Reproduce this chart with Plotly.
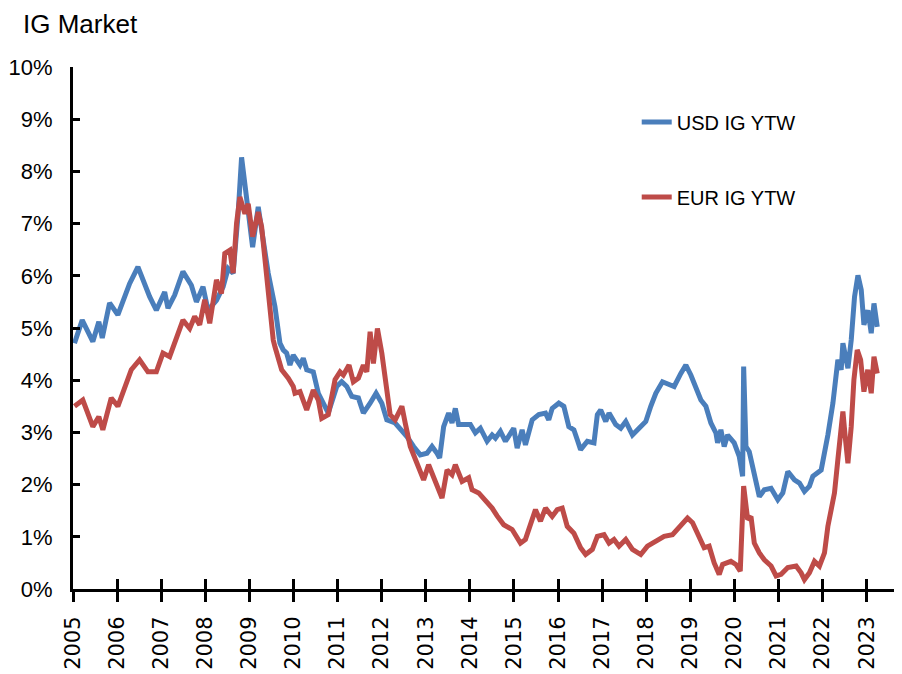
import pandas as pd
import plotly.graph_objects as go

# ---- data (decimal years, yield in %) ----
usd_t = [2005.034, 2005.209, 2005.45, 2005.586, 2005.664, 2005.83, 2006.018, 2006.284, 2006.473, 2006.739,
         2006.891, 2007.08, 2007.155, 2007.307, 2007.495, 2007.686, 2007.80, 2007.95, 2008.064, 2008.255,
         2008.405, 2008.518, 2008.632, 2008.745, 2008.823, 2008.898, 2009.011, 2009.073, 2009.20, 2009.277,
         2009.427, 2009.58, 2009.693, 2009.768, 2009.845, 2009.92, 2009.995, 2010.148, 2010.223, 2010.30,
         2010.45, 2010.564, 2010.60, 2010.716, 2010.79, 2010.982, 2011.095, 2011.209, 2011.323, 2011.473,
         2011.586, 2011.739, 2011.875, 2012.005, 2012.118, 2012.307, 2012.42, 2012.573, 2012.723, 2012.875,
         2013.027, 2013.141, 2013.255, 2013.314, 2013.405, 2013.518, 2013.595, 2013.67, 2013.745, 2014.011,
         2014.125, 2014.239, 2014.391, 2014.505, 2014.58, 2014.693, 2014.807, 2014.995, 2015.073, 2015.186,
         2015.261, 2015.414, 2015.564, 2015.716, 2015.79, 2015.868, 2016.018, 2016.132, 2016.245, 2016.359,
         2016.436, 2016.511, 2016.664, 2016.814, 2016.89, 2016.966, 2017.08, 2017.155, 2017.307, 2017.42,
         2017.534, 2017.686, 2017.836, 2017.989, 2018.102, 2018.216, 2018.368, 2018.482, 2018.632, 2018.784,
         2018.898, 2019.011, 2019.125, 2019.239, 2019.352, 2019.466, 2019.58, 2019.618, 2019.693, 2019.768,
         2019.845, 2019.995, 2020.109, 2020.186, 2020.209, 2020.261, 2020.336, 2020.45, 2020.564, 2020.677,
         2020.83, 2020.982, 2021.095, 2021.209, 2021.359, 2021.473, 2021.586, 2021.70, 2021.777, 2021.966,
         2022.041, 2022.118, 2022.232, 2022.307, 2022.345, 2022.42, 2022.459, 2022.573, 2022.648, 2022.723,
         2022.80, 2022.875, 2022.936, 2023.027, 2023.102, 2023.164, 2023.239]
usd_v = [4.71, 5.15, 4.74, 5.12, 4.81, 5.48, 5.25, 5.85, 6.17, 5.60,
         5.34, 5.69, 5.38, 5.63, 6.08, 5.82, 5.50, 5.79, 5.34, 5.53,
         5.79, 6.14, 6.05, 7.19, 8.27, 7.77, 6.87, 6.55, 7.32, 6.87,
         6.05, 5.41, 4.71, 4.58, 4.52, 4.29, 4.48, 4.29, 4.42, 4.20,
         4.16, 3.75, 3.69, 3.50, 3.37, 3.88, 3.97, 3.88, 3.69, 3.66,
         3.37, 3.56, 3.75, 3.56, 3.24, 3.18, 3.08, 2.92, 2.73, 2.57,
         2.60, 2.73, 2.60, 2.51, 3.11, 3.37, 3.18, 3.46, 3.15, 3.15,
         2.99, 3.08, 2.83, 2.95, 2.89, 3.02, 2.83, 3.08, 2.70, 3.05,
         2.76, 3.24, 3.34, 3.37, 3.24, 3.46, 3.56, 3.50, 3.11, 3.05,
         2.86, 2.67, 2.83, 2.80, 3.34, 3.43, 3.21, 3.37, 3.15, 3.08,
         3.21, 2.95, 3.08, 3.21, 3.50, 3.75, 3.97, 3.94, 3.88, 4.13,
         4.29, 4.10, 3.85, 3.62, 3.50, 3.18, 2.99, 2.80, 3.05, 2.73,
         2.95, 2.80, 2.54, 2.16, 4.26, 2.73, 2.63, 2.16, 1.77, 1.90,
         1.93, 1.71, 1.84, 2.25, 2.09, 2.03, 1.87, 1.97, 2.16, 2.28,
         2.60, 2.95, 3.56, 4.07, 4.39, 4.20, 4.71, 4.23, 4.77, 5.60,
         6.01, 5.73, 5.06, 5.34, 4.90, 5.47, 5.02]

eur_t = [2005.034, 2005.223, 2005.45, 2005.586, 2005.677, 2005.868, 2006.018, 2006.17, 2006.323, 2006.511,
         2006.70, 2006.891, 2007.041, 2007.193, 2007.307, 2007.495, 2007.648, 2007.761, 2007.875, 2007.989,
         2008.102, 2008.255, 2008.368, 2008.443, 2008.557, 2008.632, 2008.709, 2008.784, 2008.898, 2008.973,
         2009.073, 2009.20, 2009.277, 2009.391, 2009.466, 2009.541, 2009.58, 2009.732, 2009.882, 2009.995,
         2010.034, 2010.148, 2010.30, 2010.45, 2010.564, 2010.641, 2010.79, 2010.943, 2011.057, 2011.132,
         2011.261, 2011.359, 2011.473, 2011.586, 2011.664, 2011.739, 2011.814, 2011.905, 2012.005, 2012.118,
         2012.193, 2012.307, 2012.459, 2012.534, 2012.648, 2012.80, 2012.95, 2013.064, 2013.177, 2013.368,
         2013.482, 2013.595, 2013.67, 2013.823, 2013.973, 2014.05, 2014.20, 2014.391, 2014.505, 2014.618,
         2014.768, 2014.959, 2015.148, 2015.261, 2015.414, 2015.489, 2015.602, 2015.716, 2015.868, 2015.982,
         2016.095, 2016.209, 2016.359, 2016.511, 2016.625, 2016.777, 2016.89, 2017.041, 2017.155, 2017.268,
         2017.382, 2017.534, 2017.686, 2017.875, 2018.027, 2018.216, 2018.405, 2018.595, 2018.784, 2018.936,
         2019.05, 2019.164, 2019.314, 2019.427, 2019.541, 2019.655, 2019.732, 2019.92, 2020.034, 2020.132,
         2020.209, 2020.30, 2020.375, 2020.45, 2020.564, 2020.677, 2020.83, 2020.943, 2021.057, 2021.209,
         2021.398, 2021.511, 2021.586, 2021.70, 2021.814, 2021.927, 2022.041, 2022.118, 2022.193, 2022.268,
         2022.345, 2022.405, 2022.459, 2022.511, 2022.573, 2022.648, 2022.709, 2022.784, 2022.861, 2022.936,
         2023.023, 2023.102, 2023.164, 2023.239]
eur_v = [3.50, 3.62, 3.11, 3.30, 3.05, 3.66, 3.50, 3.88, 4.20, 4.39,
         4.16, 4.16, 4.52, 4.45, 4.71, 5.15, 4.99, 5.22, 5.06, 5.54,
         5.09, 5.92, 5.66, 6.43, 6.49, 6.05, 7.00, 7.51, 7.19, 7.38,
         6.75, 7.22, 6.94, 5.92, 5.34, 4.77, 4.64, 4.20, 4.04, 3.88,
         3.75, 3.78, 3.43, 3.81, 3.62, 3.27, 3.34, 4.01, 4.16, 4.10,
         4.29, 3.97, 4.04, 4.29, 4.16, 4.93, 4.32, 4.99, 4.52, 3.75,
         3.34, 3.24, 3.50, 3.18, 2.73, 2.41, 2.09, 2.38, 2.16, 1.74,
         2.28, 2.19, 2.38, 2.06, 2.13, 1.90, 1.84, 1.65, 1.55, 1.40,
         1.23, 1.14, 0.88, 0.95, 1.33, 1.52, 1.30, 1.55, 1.39, 1.52,
         1.55, 1.20, 1.07, 0.79, 0.66, 0.76, 1.01, 1.04, 0.88, 0.95,
         0.82, 0.95, 0.76, 0.66, 0.82, 0.91, 1.01, 1.04, 1.20, 1.36,
         1.27, 1.07, 0.79, 0.82, 0.50, 0.28, 0.47, 0.53, 0.47, 0.34,
         1.97, 1.33, 1.39, 0.88, 0.69, 0.56, 0.44, 0.25, 0.28, 0.41,
         0.44, 0.31, 0.18, 0.31, 0.53, 0.44, 0.69, 1.20, 1.52, 1.84,
         2.48, 2.92, 3.40, 2.92, 2.41, 3.11, 4.01, 4.58, 4.39, 3.78,
         4.20, 3.75, 4.45, 4.13]

series_names = ["USD IG YTW", "EUR IG YTW"]
title_text = "IG Market"
year_ticks = list(range(2005, 2024))
pct_ticks = list(range(0, 11))


def to_dates(years):
    out = []
    for y in years:
        yr = int(y)
        start = pd.Timestamp(year=yr, month=1, day=1)
        end = pd.Timestamp(year=yr + 1, month=1, day=1)
        out.append(start + (end - start) * (y - yr))
    return out


BLUE = "#4A7EBB"
RED = "#BE4B48"
SANS = "Liberation Sans, Arial, sans-serif"

W, H = 894, 666  # page body has an 8px margin

fig = go.Figure()
fig.add_trace(go.Scatter(x=to_dates(usd_t), y=usd_v, mode="lines", name=series_names[0],
                         line=dict(color=BLUE, width=5), legend="legend"))
fig.add_trace(go.Scatter(x=to_dates(eur_t), y=eur_v, mode="lines", name=series_names[1],
                         line=dict(color=RED, width=5), legend="legend2"))
# helper axis to draw the inner half of the crossing x ticks
fig.add_trace(go.Scatter(x=[], y=[], xaxis="x2", yaxis="y", showlegend=False, hoverinfo="skip"))

tickvals = [pd.Timestamp(year=y, month=1, day=1) for y in year_ticks]
xr = [pd.Timestamp("2005-01-01"), pd.Timestamp("2023-10-20")]

fig.update_layout(
    width=W, height=H,
    margin=dict(l=65, r=0, t=59, b=84.5, autoexpand=False),
    plot_bgcolor="white", paper_bgcolor="white",
    showlegend=True,
    title=dict(text=title_text, xref="container", yref="container", x=15 / W, xanchor="left",
               y=1 - 16 / H, yanchor="middle",
               font=dict(family=SANS, size=26, color="#000")),
    xaxis=dict(type="date", range=xr, tickvals=tickvals, ticktext=[str(y) for y in year_ticks],
               tickangle=-90, ticks="outside", ticklen=10, tickwidth=3, tickcolor="#000",
               showline=True, linecolor="#000", linewidth=3, showgrid=False, zeroline=False,
               tickfont=dict(family="DejaVu Sans", size=21, color="#000"), ticklabelstandoff=6),
    xaxis2=dict(type="date", range=xr, tickvals=tickvals, overlaying="x", anchor="y", side="bottom",
                ticks="inside", ticklen=10, tickwidth=3, tickcolor="#000", showticklabels=False,
                showline=False, showgrid=False, zeroline=False),
    yaxis=dict(range=[0, 10], tickvals=pct_ticks, ticktext=[f"{v}%" for v in pct_ticks],
               ticks="inside", ticklen=7, tickwidth=3, tickcolor="#000",
               showline=True, linecolor="#000", linewidth=3, showgrid=False, zeroline=False,
               tickfont=dict(family=SANS, size=22, color="#000"), ticklabelstandoff=13),
    legend=dict(x=0.680, y=0.8947, xanchor="left", yanchor="middle", bgcolor="rgba(0,0,0,0)",
                font=dict(family=SANS, size=20, color="#000")),
    legend2=dict(x=0.680, y=0.751, xanchor="left", yanchor="middle", bgcolor="rgba(0,0,0,0)",
                 font=dict(family=SANS, size=20, color="#000")),
)

fig.write_html("out.html")
